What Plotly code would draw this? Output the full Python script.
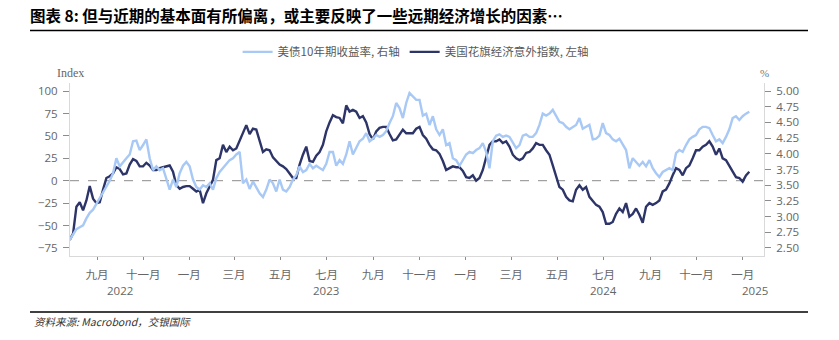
import numpy as np
import pandas as pd
import plotly.graph_objects as go

# ---------------- data ----------------
START_DATE = "2022-07-27"
STEP_DAYS = 4.4  # observation spacing (approx.)

# 美国花旗经济意外指数 (left axis, Index)
citi_surprise = [
    -66, -59, -29, -24, -33, -22, -6, -20, -25, -24, -10, 3, 5, 8, 15, 13, 7, 8, 18, 24,
    22, 16, 16, 20, 17, 12, 12, 14, 15, 16, 17, 10, -5, -9, -7, -6, -6, -9, -12, -10,
    -25, -14, -7, 1, 23, 25, 40, 32, 38, 34, 36, 44, 53, 62, 52, 58, 57, 45, 32, 35,
    34, 26, 22, 18, 16, 13, 8, 3, 3, 18, 29, 38, 22, 21, 28, 32, 40, 55, 65, 73,
    71, 70, 64, 84, 77, 79, 77, 70,
    72, 65, 52, 46, 55, 59, 60, 60, 52, 45, 46, 52, 57, 53, 53, 53, 58, 60, 51, 47,
    40, 35, 34, 30, 22, 12, 14, 16, 15, 15, 11, 4, 3, 6, 0, 3, 12, 27, 40, 44,
    44, 46, 42, 44, 38, 29, 25, 23, 25, 31, 32, 36, 42, 40,
    40, 34, 29, 17, 4, -7, -10, -18, -22, -23, -10, -5, -10, -7, -18, -23, -27, -29, -35, -48,
    -48, -46, -37, -31, -35, -25, -40, -37, -31, -38, -47, -29, -25, -27, -25, -22, -12, -10, -3, 6,
    14, 12, 6, 14, 17, 25, 34, 34, 38, 40, 44, 38, 29, 36, 25, 23, 17, 10, 4, 3,
    -1, 6, 10,
]

# 美债10年期收益率 (right axis, %)
ust_10y = [
    2.63, 2.71, 2.80, 2.83, 2.86, 2.97, 3.06, 3.11, 3.20, 3.29, 3.40, 3.47, 3.57, 3.69, 3.93, 3.80, 3.87, 3.93, 3.99, 4.20,
    4.21, 4.06, 4.14, 4.23, 3.93, 3.74, 3.80, 3.74, 3.77, 3.59, 3.43, 3.59, 3.47, 3.69, 3.81, 3.87, 3.80, 3.59, 3.47, 3.43,
    3.50, 3.47, 3.53, 3.43, 3.61, 3.71, 3.77, 3.84, 3.90, 3.93, 3.99, 4.03, 3.53, 3.59, 3.44, 3.56, 3.47, 3.37, 3.31, 3.43,
    3.59, 3.53, 3.40, 3.59, 3.43, 3.40, 3.47, 3.59, 3.66, 3.80, 3.71, 3.74, 3.84, 3.77, 3.81, 3.77, 3.74, 3.84, 4.03, 4.03,
    3.81, 3.90, 3.84, 3.99, 4.20, 3.99, 4.09, 4.20,
    4.24, 4.33, 4.20, 4.24, 4.30, 4.27, 4.30, 4.36, 4.49, 4.60, 4.81, 4.73, 4.57, 4.81, 4.97, 4.91, 4.86, 4.86, 4.61, 4.64,
    4.46, 4.60, 4.39, 4.30, 4.39, 4.14, 4.17, 3.93, 3.90, 3.81, 3.90, 3.99, 4.03, 4.01, 4.06, 4.09, 4.17, 4.03, 3.77, 4.20,
    4.29, 4.31, 4.27, 4.29, 4.27, 4.17, 4.09, 4.14, 4.29, 4.31, 4.27, 4.27, 4.33, 4.46,
    4.64, 4.61, 4.64, 4.70, 4.61, 4.51, 4.49, 4.43, 4.39, 4.43, 4.46, 4.57, 4.40, 4.43, 4.46, 4.23, 4.24, 4.29, 4.49, 4.33,
    4.30, 4.23, 4.20, 4.24, 4.14, 4.06, 3.77, 3.93, 3.87, 3.81, 3.87, 3.80, 3.90, 3.77, 3.69, 3.63, 3.71, 3.74, 3.77, 3.74,
    4.01, 4.06, 4.03, 4.14, 4.23, 4.27, 4.30, 4.39, 4.43, 4.43, 4.41, 4.30, 4.20, 4.23, 4.17, 4.27, 4.39, 4.57, 4.60, 4.54,
    4.60, 4.64, 4.67,
]

month_ticks = ["2022-09-01", "2022-11-01", "2023-01-01", "2023-03-01", "2023-05-01", "2023-07-01",
               "2023-09-01", "2023-11-01", "2024-01-01", "2024-03-01", "2024-05-01", "2024-07-01",
               "2024-09-01", "2024-11-01", "2025-01-01"]
month_labels = ["九月", "十一月", "一月", "三月", "五月", "七月", "九月", "十一月",
                "一月", "三月", "五月", "七月", "九月", "十一月", "一月"]
year_ticks = ["2023-01-01", "2024-01-01", "2025-01-01"]
year_label_pos = ["2022-10-01", "2023-07-01", "2024-07-01", "2025-01-17"]
year_labels = ["2022", "2023", "2024", "2025"]

left_ticks = [-75, -50, -25, 0, 25, 50, 75, 100]
right_ticks = [2.50, 2.75, 3.00, 3.25, 3.50, 3.75, 4.00, 4.25, 4.50, 4.75, 5.00]

name_ust = "美债10年期收益率, 右轴"
name_citi = "美国花旗经济意外指数, 左轴"
title_text = "图表 8: 但与近期的基本面有所偏离，或主要反映了一些远期经济增长的因素…"
source_text = "资料来源: Macrobond，交银国际"

# ---------------- figure ----------------
n = len(citi_surprise)
dates = pd.Timestamp(START_DATE) + pd.to_timedelta(np.arange(n) * STEP_DAYS, unit="D")

LIGHT = "#a8c8f6"
DARK = "#2c3468"
GRAY_TXT = "#666666"
FONT = "Open Sans, Noto Sans CJK SC, sans-serif"
CJK = "Noto Sans CJK SC, sans-serif"

fig = go.Figure()
fig.add_trace(go.Scatter(x=dates, y=ust_10y, name=name_ust, mode="lines",
                         line=dict(color=LIGHT, width=2.4), yaxis="y2"))
fig.add_trace(go.Scatter(x=dates, y=citi_surprise, name=name_citi, mode="lines",
                         line=dict(color=DARK, width=2.4), yaxis="y"))

xrange = ["2022-07-27 08:00", "2025-01-29"]
left_range = [-84, 109]
right_range = [5 + (left_range[0] - 100) / 70, 5 + (left_range[1] - 100) / 70]

fig.update_layout(
    width=839, height=340,
    margin=dict(l=70, r=75, t=83, b=84),
    paper_bgcolor="white", plot_bgcolor="white",
    font=dict(family=FONT, size=11, color=GRAY_TXT),
    showlegend=True,
    legend=dict(orientation="h", x=0.498, xanchor="center", y=1.18, yanchor="middle",
                font=dict(family=CJK, size=11.5, color="#595959"),
                itemwidth=30, bgcolor="rgba(0,0,0,0)"),
    title=dict(text="<b>" + title_text + "</b>", x=30 / 839, xanchor="left",
               y=1 - 17 / 340, yanchor="middle", xref="container", yref="container",
               font=dict(family=CJK, size=15.5, color="black")),
    xaxis=dict(type="date", range=xrange, tickvals=month_ticks, ticktext=month_labels,
               ticks="outside", ticklen=3, tickcolor="#8c8c8c", tickwidth=1,
               showline=True, linecolor="#d9d9d9", linewidth=1, showgrid=False, zeroline=False,
               tickfont=dict(family=CJK, size=11.5, color=GRAY_TXT), ticklabelstandoff=5),
    xaxis2=dict(type="date", range=xrange, overlaying="x", anchor="y", side="bottom",
                tickvals=year_ticks, ticks="outside", ticklen=7, tickcolor="#8c8c8c", tickwidth=1,
                showticklabels=False, showline=False, showgrid=False, zeroline=False),
    yaxis=dict(range=left_range, tickvals=left_ticks, ticks="outside", ticklen=6,
               tickcolor="#8c8c8c", showline=True, linecolor="#d9d9d9", showgrid=False,
               zeroline=False, tickfont=dict(size=11.5, color=GRAY_TXT), ticklabelstandoff=3),
    yaxis2=dict(range=right_range, tickvals=right_ticks, tickformat=".2f", overlaying="y",
                side="right", anchor="x", ticks="outside", ticklen=6, tickcolor="#8c8c8c",
                showline=True, linecolor="#d9d9d9", showgrid=False, zeroline=False,
                tickfont=dict(size=11.5, color=GRAY_TXT), ticklabelstandoff=3),
)

# dashed zero line on the left axis
fig.add_shape(type="line", xref="paper", x0=0, x1=1, yref="y", y0=0, y1=0,
              line=dict(color="#8c8c8c", width=1, dash="dash"), layer="below")

# title rule and footer rule
fig.add_shape(type="line", xref="paper", yref="paper", x0=(30 - 70) / 694, x1=(808 - 70) / 694,
              y0=1 + (83 - 30.5) / 173, y1=1 + (83 - 30.5) / 173, line=dict(color="black", width=1.5))
fig.add_shape(type="line", xref="paper", yref="paper", x0=(30 - 70) / 694, x1=(808 - 70) / 694,
              y0=-(312 - 256) / 173, y1=-(312 - 256) / 173, line=dict(color="black", width=1.5))

# axis unit labels
fig.add_annotation(text="Index", xref="paper", yref="paper", x=0, y=1 + (83 - 73) / 173,
                   xanchor="center", yanchor="middle", showarrow=False,
                   font=dict(family="Liberation Serif, serif", size=12, color="#666666"))
fig.add_annotation(text="%", xref="paper", yref="paper", x=1, y=1 + (83 - 73) / 173,
                   xanchor="center", yanchor="middle", showarrow=False,
                   font=dict(family="Liberation Serif, serif", size=11, color="#777777"))

# year labels
for d, lab in zip(year_label_pos, year_labels):
    fig.add_annotation(text=lab, x=d, xref="x", yref="paper", y=-(290 - 256) / 173,
                       xanchor="center", yanchor="middle", showarrow=False,
                       font=dict(family=FONT, size=11.5, color=GRAY_TXT))

# source
fig.add_annotation(text="<i>" + source_text + "</i>", xref="paper", yref="paper",
                   x=(32 - 70) / 694, y=-(321 - 256) / 173, xanchor="left", yanchor="middle",
                   showarrow=False, font=dict(family=CJK, size=10.5, color="#333333"))

fig.write_html("out.html")
